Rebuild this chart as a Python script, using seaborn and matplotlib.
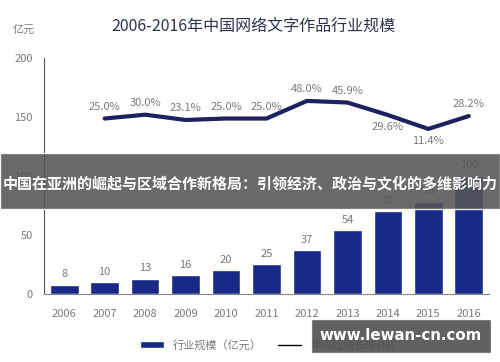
import numpy as np
import pandas as pd
import matplotlib
matplotlib.use('Agg')
import matplotlib.pyplot as plt
import seaborn as sns
from matplotlib.patches import Patch, Rectangle
from matplotlib.lines import Line2D

years = ['2006', '2007', '2008', '2009', '2010', '2011', '2012', '2013', '2014', '2015', '2016']
scale = [8, 10, 13, 16, 20, 25, 37, 54, 70, 78, 100]
rate_years = years[1:]
rates = [25.0, 30.0, 23.1, 25.0, 25.0, 48.0, 45.9, 29.6, 11.4, 28.2]
below = ['2014', '2015']

title = '2006-2016年中国网络文字作品行业规模'
banner = '中国在亚洲的崛起与区域合作新格局：引领经济、政治与文化的多维影响力'
watermark = 'www.lewan-cn.com'

bar_color = '#182a86'
line_color = '#1c2160'
gray = '#7a7a7a'

sns.set_theme(style='white')
plt.rcParams['font.family'] = ['Noto Sans CJK SC', 'DejaVu Sans']

fig = plt.figure(figsize=(5, 3.62), dpi=100)
ax = fig.add_axes([0.088, 0.188, 0.89, 0.652])

df = pd.DataFrame({'year': years, 'scale': scale})
sns.barplot(data=df, x='year', y='scale', color=bar_color, saturation=1,
            width=0.71, ax=ax)
ax.bar_label(ax.containers[0], padding=4, color=gray, fontsize=8)

ax.set_ylim(0, 200)
ax.set_xlim(-0.5, 10.5)
ax.set_yticks([0, 50, 100, 150, 200])
ax.set_xlabel('')
ax.set_ylabel('')
ax.tick_params(axis='both', length=0, colors=gray, labelsize=8)
ax.tick_params(axis='y', pad=8)
ax.tick_params(axis='x', pad=11)
for s in ['top', 'right']:
    ax.spines[s].set_visible(False)
ax.spines['left'].set_color('#555555')
ax.spines['bottom'].set_color('#888888')
ax.spines['left'].set_linewidth(0.8)
ax.spines['bottom'].set_linewidth(0.8)

# growth line on hidden twin axis
ax2 = ax.twinx()
xpos = [years.index(y) for y in rate_years]
sns.lineplot(x=xpos, y=rates, ax=ax2, color=line_color, linewidth=3)
ax2.set_ylim(-204.3, 104.2)
ax2.set_axis_off()
for x, y, r in zip(xpos, rates, rate_years):
    if r in below:
        ax2.annotate(f'{y:.1f}%', (x, y), xytext=(0, -5), textcoords='offset points',
                     ha='center', va='top', color=gray, fontsize=8)
    else:
        ax2.annotate(f'{y:.1f}%', (x, y), xytext=(0, 5), textcoords='offset points',
                     ha='center', va='bottom', color=gray, fontsize=8)

fig.text(0.507, 1 - 27 / 362, title, ha='center', va='center', fontsize=11.5, color='#2b3252')
fig.text(24 / 500, 1 - 30 / 362, '亿元', ha='center', va='center', fontsize=8, color=gray)

handles = [Patch(facecolor=bar_color), Line2D([0], [0], color='black', lw=1)]
fig.legend(handles, ['行业规模（亿元）', '年同比增长率(%)'], loc='center',
           bbox_to_anchor=(0.535, 1 - 345 / 362), ncol=2, frameon=False,
           fontsize=8, handlelength=2.1, handleheight=0.6, columnspacing=1.5,
           labelcolor=gray)

# overlay banner and watermark
fig.patches.append(Rectangle((0, 1 - 209 / 362), 1, 56 / 362, transform=fig.transFigure,
                             facecolor='#555555', alpha=0.88, zorder=10))
fig.text(0.5, 1 - 183 / 362, banner, ha='center', va='center', fontsize=10.8,
         fontweight='bold', color='white', zorder=11)
fig.patches.append(Rectangle((311 / 500, 1 - 353 / 362), 180 / 500, 34 / 362,
                             transform=fig.transFigure, facecolor='#505050',
                             alpha=0.9, zorder=10))
fig.text(401 / 500, 1 - 336 / 362, watermark, ha='center', va='center', fontsize=10.8,
         fontweight='bold', color='white', family=['DejaVu Sans'], zorder=11)

fig.savefig('out.png', dpi=100)
